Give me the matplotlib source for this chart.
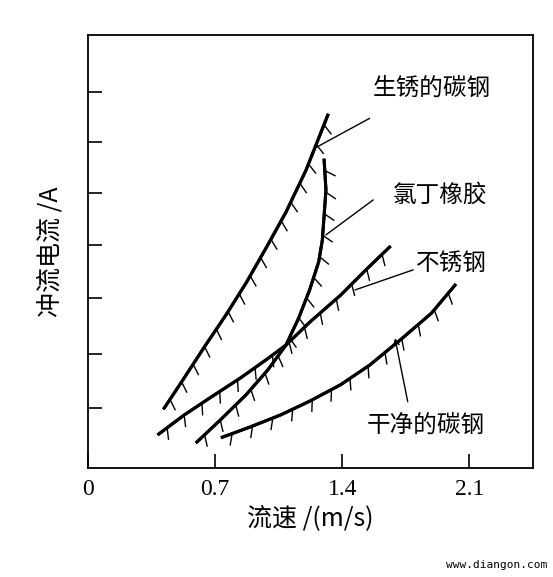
import matplotlib
matplotlib.use("Agg")
import matplotlib.pyplot as plt
from matplotlib import patheffects as pe

plt.rcParams['font.family'] = ['Noto Sans CJK SC', 'DejaVu Sans']

rusty_x = [0.42, 0.53, 0.64, 0.76, 0.87, 0.98, 1.09, 1.20, 1.32]
rusty_y = [1.13, 1.70, 2.28, 2.89, 3.49, 4.15, 4.83, 5.62, 6.66]
rubber_x = [0.60, 0.73, 0.87, 0.99, 1.09, 1.16, 1.22, 1.27, 1.29, 1.30, 1.31, 1.30]
rubber_y = [0.49, 0.91, 1.38, 1.85, 2.32, 2.83, 3.36, 3.89, 4.30, 4.77, 5.25, 5.81]
stainless_x = [0.39, 0.53, 0.67, 0.84, 0.98, 1.09, 1.22, 1.39, 1.53, 1.66]
stainless_y = [0.64, 1.00, 1.32, 1.70, 2.04, 2.32, 2.75, 3.26, 3.74, 4.17]
clean_x = [0.74, 0.89, 1.06, 1.22, 1.39, 1.55, 1.72, 1.89, 2.02]
clean_y = [0.58, 0.77, 1.00, 1.26, 1.57, 1.94, 2.42, 2.92, 3.45]

xticks = [0, 0.7, 1.4, 2.1]
xticklabels = ['0', '0.7', '1.4', '2.1']
yticks = [1.13, 2.15, 3.2, 4.2, 5.2, 6.15, 7.1]

fig = plt.figure(figsize=(5.53, 5.77), dpi=100)
ax = fig.add_axes([0.159, 0.189, 0.805, 0.750])
ax.set_xlim(0, 2.45)
ax.set_ylim(0, 8.17)

def curve(x, y):
    ax.plot(x, y, color='black', lw=2.2, solid_joinstyle='round',
            path_effects=[pe.withTickedStroke(angle=-120, spacing=15, length=0.55, linewidth=1.0), pe.Normal()])

curve(rusty_x, rusty_y)
curve(rubber_x, rubber_y)
curve(stainless_x, stainless_y)
curve(clean_x, clean_y)

kw = dict(fontsize=17, ha='center', va='center')
lk = dict(color='black', lw=1)
ax.annotate('', xy=(1.25, 6.04), xytext=(1.55, 6.6), arrowprops=dict(arrowstyle='-', shrinkA=0, shrinkB=0, **lk))
ax.text(1.89, 7.17, '生锈的碳钢', **kw)
ax.annotate('', xy=(1.31, 4.40), xytext=(1.57, 5.06), arrowprops=dict(arrowstyle='-', shrinkA=0, shrinkB=0, **lk))
ax.text(1.94, 5.15, '氯丁橡胶', **kw)
ax.annotate('', xy=(1.47, 3.36), xytext=(1.79, 3.74), arrowprops=dict(arrowstyle='-', shrinkA=0, shrinkB=0, **lk))
ax.text(2.0, 3.87, '不锈钢', **kw)
ax.annotate('', xy=(1.69, 2.45), xytext=(1.76, 1.25), arrowprops=dict(arrowstyle='->', shrinkA=0, shrinkB=0, **lk))
ax.text(1.86, 0.81, '干净的碳钢', **kw)

ax.set_xticks(xticks)
ax.set_xticklabels(xticklabels, fontsize=17, family=['Liberation Serif'])
ax.set_yticks(yticks)
ax.set_yticklabels([])
ax.tick_params(direction='in', length=10, width=1.2, top=False, right=False)
ax.tick_params(axis='x', pad=8)
for s in ax.spines.values():
    s.set_linewidth(1.3)
ax.set_xlabel('流速 /(m/s)', fontsize=18, labelpad=4)
ax.set_ylabel('冲流电流 /A', fontsize=18, labelpad=14)
fig.text(0.99, 0.012, 'www.diangon.com', ha='right', va='bottom', fontsize=8, family=['DejaVu Sans Mono'])
fig.savefig('out.png', dpi=100)
